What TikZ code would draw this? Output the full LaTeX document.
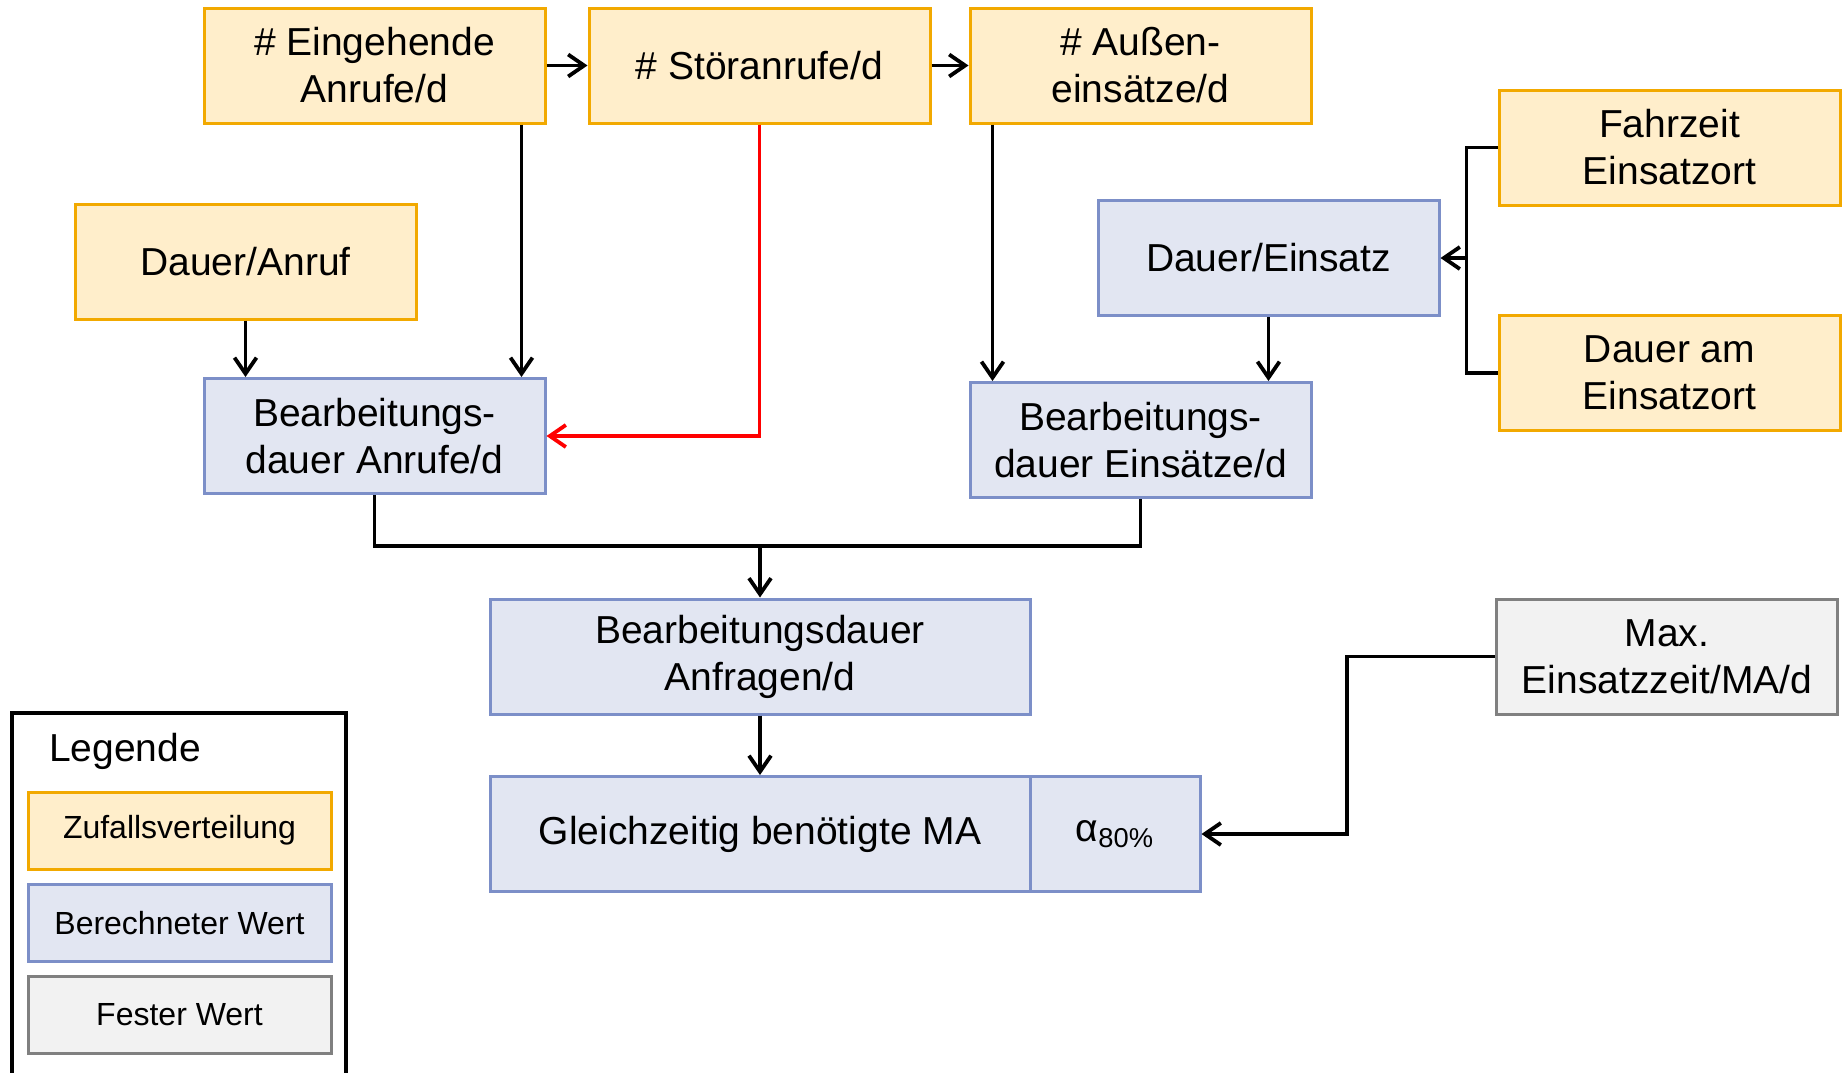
\documentclass[tikz,border=0pt]{standalone}
\usepackage{fontspec}
\setmainfont{Liberation Sans}
\usepackage{tikz}
\usetikzlibrary{arrows.meta,calc}
\definecolor{zfill}{RGB}{255,238,203}
\definecolor{zdraw}{RGB}{242,169,0}
\definecolor{bfill}{RGB}{226,230,242}
\definecolor{bdraw}{RGB}{124,143,200}
\definecolor{ffill}{RGB}{242,242,242}
\definecolor{fdraw}{RGB}{128,128,128}

\begin{document}
\begin{tikzpicture}
    \tikzset{box/.style={draw,line width=1.5pt,minimum width=170.5pt,minimum height=57.5pt,inner sep=0pt,align=center,font=\fontsize{19.5}{23.5}\selectfont}}
    \tikzset{zufall/.style={box,fill=zfill,draw=zdraw}}
    \tikzset{berech/.style={box,fill=bfill,draw=bdraw}}
    \tikzset{fest/.style={box,fill=ffill,draw=fdraw}}
    \tikzset{legitem/.style={minimum width=151.5pt,minimum height=38.5pt,font=\fontsize{16}{19}\selectfont}}
    \tikzset{arr/.style={line width=1.9pt,-{Straight Barb[length=8pt,width=11pt,line width=1.9pt]}}}
    \tikzset{con/.style={line width=1.9pt}}
    \useasboundingbox (0,0) rectangle (924pt,-536pt);
    \node[zufall] (ein) at (187.25pt,-32.75pt) {\# Eingehende\\Anrufe/d};
    \node[zufall] (stoer) at (379.75pt,-32.75pt) {\# Störanrufe/d};
    \node[zufall] (aussen) at (570.25pt,-32.75pt) {\# Außen-\\einsätze/d};
    \node[zufall] (fahr) at (834.75pt,-73.75pt) {Fahrzeit\\Einsatzort};
    \node[zufall] (ort) at (834.75pt,-186.5pt) {Dauer am\\Einsatzort};
    \node[berech] (einsatz) at (634.25pt,-129pt) {Dauer/Einsatz};
    \node[zufall] (anruf) at (122.75pt,-130.75pt) {Dauer/Anruf};
    \node[berech] (baAnr) at (187.25pt,-218pt) {Bearbeitungs-\\dauer Anrufe/d};
    \node[berech] (baEin) at (570.25pt,-220pt) {Bearbeitungs-\\dauer Einsätze/d};
    \node[berech,minimum width=270pt] (anfr) at (380pt,-328.25pt) {Bearbeitungsdauer\\Anfragen/d};
    \node[berech,minimum width=270pt] (gleich) at (380pt,-417pt) {Gleichzeitig benötigte MA};
    \node[berech,minimum width=85pt] (alpha) at (557.5pt,-417pt) {α\textsubscript{80\%}};
    \node[fest] (max) at (833.5pt,-328.25pt) {Max.\\Einsatzzeit/MA/d};

    \draw[arr] (ein.east) -- (stoer.west);
    \draw[arr] (stoer.east) -- (aussen.west);
    \draw[arr] ([xshift=-12.5pt]ein.south east) -- ([xshift=-12.5pt]baAnr.north east);
    \draw[arr,red,line width=1.6pt] (stoer.south) |- (baAnr.east);
    \draw[arr] ([xshift=12pt]aussen.south west) -- ([xshift=12pt]baEin.north west);
    \draw[arr] (anruf.south) -- (anruf.south |- baAnr.north);
    \draw[arr] (einsatz.south) -- (einsatz.south |- baEin.north);
    \coordinate (fork) at ([xshift=-15.5pt]fahr.west |- einsatz.east);
    \draw[con] (fahr.west) -| (fork) |- (ort.west);
    \draw[arr] (fork) -- (einsatz.east);
    \coordinate (join) at (anfr.north |- 0,-273pt);
    \draw[con] (baAnr.south) |- (join) -| (baEin.south);
    \draw[arr] (join) -- (anfr.north);
    \draw[arr] (anfr.south) -- (gleich.north);
    \draw[arr] (max.west) -- ++(-74pt,0) |- (alpha.east);

    \draw[line width=1.6pt] (173pt,-540pt) -- (173pt,-356.5pt) -- (6pt,-356.5pt) -- (6pt,-540pt);
    \node[anchor=west,font=\fontsize{19.5}{23.5}\selectfont] (leg) at (21pt,-375.5pt) {Legende};
    \node[zufall,legitem] (legZ) at (89.75pt,-415.25pt) {Zufallsverteilung};
    \node[berech,legitem] (legB) at (89.75pt,-461.5pt) {Berechneter Wert};
    \node[fest,legitem] (legF) at (89.75pt,-507.25pt) {Fester Wert};
\end{tikzpicture}
\end{document}
